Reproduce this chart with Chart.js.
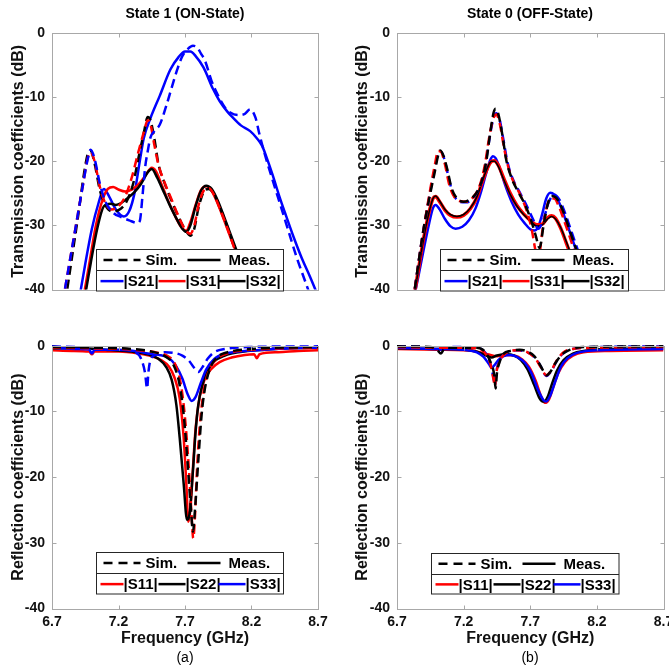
<!DOCTYPE html>
<html><head><meta charset="utf-8">
<script src="https://cdn.jsdelivr.net/npm/chart.js@4/dist/chart.umd.min.js"></script>
<style>
html,body{margin:0;padding:0;overflow:hidden;background:#fff;width:669px;height:667px}
#wrap{position:relative;width:669px;height:667px;overflow:hidden}
canvas{position:absolute}
.t{position:absolute;font-family:'Liberation Sans',Arial,sans-serif;color:#000;white-space:nowrap;transform:translate(-50%,-50%)}
</style></head><body>
<div id="wrap">
<canvas id="c1" width="335" height="305" style="left:0;top:0"></canvas>
<canvas id="c2" width="345" height="305" style="left:335px;top:0"></canvas>
<canvas id="c3" width="335" height="367" style="left:0;top:300px"></canvas>
<canvas id="c4" width="345" height="367" style="left:335px;top:300px"></canvas>
<div class="t" style="left:185px;top:13px;font-weight:bold;font-size:14px">State 1 (ON-State)</div>
<div class="t" style="left:530px;top:13px;font-weight:bold;font-size:14px">State 0 (OFF-State)</div>
<div class="t" style="left:185px;top:657px;font-size:14px">(a)</div>
<div class="t" style="left:530px;top:657px;font-size:14px">(b)</div>
</div>
<script>
// ---------- tick labels / categories ----------
const FREQ_TICKS = [6.7, 7.2, 7.7, 8.2, 8.7];
const DB_TICKS = [0, -10, -20, -30, -40];
const LEGEND_TRANS = ['|S21|', '|S31|', '|S32|'];
const LEGEND_REFL = ['|S11|', '|S22|', '|S33|'];

// ---------- State 1 (ON) transmission: [GHz, dB] ----------
const S21_on_sim = [[6.78,-42],[6.83,-36],[6.88,-30],[6.93,-24],[6.97,-19.5],[6.99,-18.2],[7.02,-19.6],[7.06,-23.5],[7.10,-26.2],[7.16,-28],[7.22,-28.7],[7.28,-29.2],[7.34,-29.6],[7.36,-29.3],[7.38,-25.5],[7.40,-21],[7.42,-18.4],[7.44,-16.3],[7.47,-15.3],[7.51,-14.3],[7.56,-11.3],[7.60,-8.5],[7.64,-5.8],[7.68,-3.6],[7.72,-2.5],[7.76,-2.0],[7.79,-2.2],[7.82,-3.2],[7.85,-4.3],[7.90,-7.5],[7.95,-9.8],[8.00,-11.6],[8.04,-12.4],[8.10,-12.8],[8.15,-12.6],[8.19,-11.9],[8.23,-13.2],[8.26,-15.8],[8.30,-18.9],[8.36,-23],[8.42,-27],[8.48,-31],[8.54,-35],[8.60,-38.5],[8.66,-42]];
const S31_on_sim = [[6.78,-42],[6.83,-36],[6.88,-30],[6.93,-24],[6.97,-19.4],[6.99,-18.6],[7.02,-20],[7.06,-24],[7.10,-26.5],[7.15,-27.5],[7.20,-27],[7.25,-25.5],[7.30,-22.5],[7.35,-18.5],[7.39,-15.5],[7.42,-13.6],[7.44,-14.2],[7.47,-17.5],[7.50,-20.5],[7.55,-23.5],[7.60,-26],[7.65,-28.5],[7.70,-30.6],[7.74,-31.3],[7.77,-30],[7.80,-27],[7.84,-24.6],[7.88,-24.2],[7.92,-25.3],[7.97,-27.8],[8.02,-30.5],[8.07,-33.5],[8.12,-36.5],[8.17,-39.5],[8.20,-41]];
const S32_on_sim = [[6.80,-42],[6.85,-35],[6.90,-28],[6.94,-22],[6.97,-18.8],[6.99,-18.4],[7.02,-20.3],[7.06,-24.5],[7.10,-26.8],[7.15,-27.8],[7.20,-27.6],[7.26,-26.3],[7.31,-23.5],[7.35,-19.5],[7.39,-15.6],[7.42,-13.1],[7.44,-13.6],[7.47,-16.5],[7.50,-20.4],[7.55,-23.6],[7.60,-26.2],[7.65,-28.6],[7.70,-30.6],[7.74,-31.6],[7.77,-30.5],[7.80,-27.4],[7.84,-24.8],[7.88,-24.3],[7.92,-25.2],[7.97,-27.6],[8.02,-30.3],[8.07,-33.3],[8.12,-36.3],[8.17,-39.3],[8.20,-41]];
const S21_on_meas = [[6.90,-42],[6.95,-36],[7.00,-30.5],[7.05,-26.5],[7.09,-24.3],[7.13,-25.5],[7.18,-27.5],[7.24,-28.6],[7.28,-27.8],[7.32,-25],[7.36,-20],[7.39,-16.4],[7.44,-13.3],[7.51,-9.8],[7.59,-5.7],[7.65,-3.8],[7.70,-2.9],[7.74,-2.9],[7.78,-3.6],[7.84,-5.4],[7.91,-8.7],[7.96,-10.6],[8.02,-12.3],[8.06,-13.2],[8.12,-14.4],[8.19,-15.3],[8.24,-16.4],[8.28,-17.6],[8.31,-19.2],[8.36,-22.2],[8.41,-25.5],[8.46,-28.5],[8.52,-32],[8.58,-35.2],[8.64,-38],[8.70,-41]];
const S31_on_meas = [[6.93,-42],[6.98,-36],[7.03,-30],[7.08,-26],[7.12,-24.3],[7.16,-24],[7.20,-24.4],[7.25,-24.7],[7.30,-24.4],[7.35,-23.6],[7.40,-22.3],[7.45,-21],[7.48,-21.5],[7.52,-23.4],[7.57,-26],[7.62,-28.3],[7.67,-30.2],[7.71,-30.8],[7.74,-29.5],[7.78,-26.8],[7.82,-24.5],[7.86,-23.9],[7.90,-24.6],[7.95,-26.8],[8.00,-29.5],[8.05,-32.3],[8.10,-35],[8.15,-38],[8.20,-40.6],[8.26,-39.5],[8.34,-39.2],[8.42,-40.6]];
const S32_on_meas = [[6.94,-42],[6.99,-36],[7.04,-30.5],[7.09,-27],[7.14,-26.6],[7.18,-26.8],[7.22,-26.5],[7.27,-25.7],[7.32,-24.8],[7.37,-23.5],[7.42,-21.7],[7.45,-21.2],[7.49,-22.5],[7.53,-24.3],[7.58,-26.6],[7.63,-28.7],[7.68,-30.5],[7.71,-31.0],[7.74,-30],[7.78,-27],[7.82,-24.6],[7.86,-23.8],[7.90,-24.3],[7.95,-26.3],[8.00,-29],[8.05,-31.8],[8.10,-34.6],[8.15,-37.6],[8.20,-40.6],[8.27,-39.6],[8.35,-39.4],[8.42,-40.6]];

// ---------- State 0 (OFF) transmission ----------
const S21_off_sim = [[6.82,-42],[6.86,-36],[6.90,-30.5],[6.94,-25.8],[6.98,-21.5],[7.01,-18.8],[7.03,-18.5],[7.06,-20],[7.09,-22.8],[7.12,-25],[7.17,-26.3],[7.22,-26.4],[7.27,-25.7],[7.32,-24],[7.36,-21],[7.39,-17],[7.42,-13.6],[7.445,-12.5],[7.47,-13.5],[7.50,-16.8],[7.53,-20.2],[7.57,-22.8],[7.62,-24.8],[7.67,-26.8],[7.72,-29],[7.76,-30.5],[7.80,-29],[7.84,-26.3],[7.88,-25.2],[7.92,-26],[7.96,-28],[8.01,-31],[8.06,-34],[8.12,-37.3],[8.18,-39.8],[8.26,-41.5]];
const S31_off_sim = [[6.82,-42],[6.86,-36],[6.90,-30.5],[6.94,-25.5],[6.98,-21],[7.01,-18.4],[7.03,-18.5],[7.06,-20.5],[7.09,-23.5],[7.12,-25.2],[7.17,-26.2],[7.22,-26.3],[7.27,-25.6],[7.32,-23.8],[7.36,-20.5],[7.39,-16.5],[7.42,-13.5],[7.445,-12.7],[7.47,-14],[7.50,-17.5],[7.53,-20.5],[7.57,-23],[7.62,-25],[7.67,-27.5],[7.71,-30.5],[7.74,-34],[7.76,-35.5],[7.79,-31],[7.82,-27.5],[7.85,-25.8],[7.88,-25.8],[7.91,-26.8],[7.95,-29],[8.00,-32],[8.05,-35.2],[8.12,-38.5],[8.18,-40.6]];
const S32_off_sim = [[6.82,-42],[6.86,-36],[6.90,-30.5],[6.94,-26],[6.98,-22],[7.01,-19],[7.025,-18.3],[7.05,-19.2],[7.08,-21.5],[7.11,-24.2],[7.15,-25.8],[7.20,-26.3],[7.25,-25.9],[7.30,-24.8],[7.34,-22.8],[7.37,-20],[7.40,-15.5],[7.425,-12.4],[7.44,-11.8],[7.46,-12.6],[7.49,-15.8],[7.52,-19.8],[7.56,-22.6],[7.60,-24.4],[7.65,-26.3],[7.70,-28.8],[7.74,-31.5],[7.77,-33.5],[7.80,-30],[7.83,-26.8],[7.86,-25.4],[7.89,-25.6],[7.92,-26.5],[7.96,-28.5],[8.00,-31],[8.05,-34],[8.10,-37],[8.15,-40],[8.18,-42]];
const S21_off_meas = [[6.82,-42],[6.86,-38],[6.90,-33.8],[6.94,-29.8],[6.97,-27.3],[6.99,-26.8],[7.02,-27.5],[7.06,-29],[7.10,-30.1],[7.14,-30.5],[7.19,-30.2],[7.24,-29.2],[7.29,-27.3],[7.33,-24.8],[7.37,-21.8],[7.40,-19.8],[7.42,-19.2],[7.44,-19.5],[7.47,-21],[7.51,-23.6],[7.56,-26.3],[7.61,-28.3],[7.66,-29.7],[7.70,-30.6],[7.73,-30.8],[7.76,-30.2],[7.79,-28.2],[7.82,-25.8],[7.85,-24.9],[7.88,-25.2],[7.92,-26.6],[7.96,-28.8],[8.01,-31.8],[8.06,-34.8],[8.11,-37.8],[8.16,-40.5]];
const S31_off_meas = [[6.82,-42],[6.86,-37],[6.90,-32],[6.94,-28],[6.97,-25.8],[6.99,-25.5],[7.02,-26.3],[7.06,-27.6],[7.10,-28.4],[7.15,-28.7],[7.20,-28.4],[7.25,-27.4],[7.30,-25.6],[7.34,-23.2],[7.38,-21],[7.41,-20],[7.43,-19.9],[7.46,-20.6],[7.50,-22.6],[7.55,-25],[7.60,-26.9],[7.65,-28.2],[7.70,-29.2],[7.75,-29.9],[7.79,-29.8],[7.83,-28.8],[7.86,-28.5],[7.89,-28.9],[7.93,-30.5],[7.97,-32.7],[8.02,-35.5],[8.07,-38.2],[8.12,-41]];
const S32_off_meas = [[6.82,-42],[6.86,-37],[6.90,-32],[6.94,-28],[6.97,-25.8],[6.99,-25.4],[7.02,-26.2],[7.06,-27.5],[7.10,-28.3],[7.15,-28.6],[7.20,-28.3],[7.25,-27.3],[7.30,-25.5],[7.34,-23.1],[7.38,-20.9],[7.41,-20],[7.43,-20],[7.46,-20.8],[7.50,-22.8],[7.55,-25.2],[7.60,-27],[7.65,-28.3],[7.70,-29.3],[7.75,-30.1],[7.79,-29.9],[7.83,-29],[7.86,-28.6],[7.89,-29],[7.93,-30.4],[7.97,-32.5],[8.02,-35.3],[8.07,-38],[8.12,-40.8]];

// ---------- State 1 (ON) reflection ----------
const S11_on_sim = [[6.7,-0.3],[7.0,-0.4],[7.3,-0.6],[7.5,-1.1],[7.58,-1.7],[7.63,-3],[7.67,-6],[7.70,-11],[7.73,-19],[7.75,-26],[7.762,-29.3],[7.775,-26],[7.79,-19],[7.81,-12.5],[7.84,-7],[7.88,-3.8],[7.93,-2.2],[8.0,-1.3],[8.1,-0.8],[8.3,-0.5],[8.7,-0.3]];
const S22_on_sim = [[6.7,-0.2],[7.0,-0.3],[7.3,-0.5],[7.45,-0.9],[7.55,-1.6],[7.61,-2.8],[7.655,-5.5],[7.69,-10.5],[7.72,-18],[7.745,-25],[7.76,-28.3],[7.775,-25],[7.80,-17.5],[7.825,-10.5],[7.85,-6.5],[7.89,-3.4],[7.94,-1.8],[8.02,-1.0],[8.2,-0.5],[8.7,-0.2]];
const S33_on_sim = [[6.7,-0.1],[7.0,-0.3],[7.2,-0.5],[7.32,-0.9],[7.37,-2],[7.40,-4.2],[7.415,-6.5],[7.425,-4],[7.44,-2.2],[7.48,-1.4],[7.55,-1.0],[7.62,-1.1],[7.68,-1.5],[7.73,-2.3],[7.77,-3.4],[7.80,-4],[7.83,-3.3],[7.87,-2],[7.92,-1.0],[8.0,-0.5],[8.2,-0.2],[8.7,-0.1]];
const S11_on_meas = [[6.7,-0.7],[6.85,-0.8],[6.98,-0.9],[7.0,-1.3],[7.02,-0.9],[7.2,-0.9],[7.35,-1.2],[7.45,-1.6],[7.52,-2.2],[7.58,-3.2],[7.62,-4.8],[7.66,-8],[7.69,-14],[7.71,-21],[7.725,-26.8],[7.74,-25],[7.76,-18.5],[7.78,-12.5],[7.81,-7.8],[7.85,-5],[7.90,-3.5],[7.96,-2.5],[8.05,-1.8],[8.15,-1.4],[8.22,-1.3],[8.24,-1.9],[8.26,-1.3],[8.4,-1],[8.55,-0.8],[8.7,-0.7]];
const S22_on_meas = [[6.7,-0.4],[6.9,-0.4],[7.1,-0.6],[7.3,-0.9],[7.42,-1.3],[7.50,-2.0],[7.56,-3.3],[7.60,-5.2],[7.635,-9],[7.66,-14],[7.69,-21],[7.715,-26.5],[7.735,-25.5],[7.76,-19],[7.78,-13],[7.80,-9],[7.83,-6],[7.87,-3.8],[7.92,-2.4],[8.0,-1.5],[8.1,-1.0],[8.3,-0.6],[8.5,-0.4],[8.7,-0.3]];
const S33_on_meas = [[6.7,-0.3],[6.9,-0.5],[6.98,-0.6],[7.0,-1.2],[7.02,-0.6],[7.2,-0.6],[7.35,-0.9],[7.42,-1.2],[7.5,-1.4],[7.58,-1.9],[7.63,-3],[7.68,-5],[7.72,-7.4],[7.75,-8.4],[7.78,-7.8],[7.82,-5.6],[7.86,-3.6],[7.92,-2],[8.0,-1.2],[8.1,-0.9],[8.3,-0.6],[8.5,-0.4],[8.7,-0.3]];

// ---------- State 0 (OFF) reflection ----------
const S11_off_sim = [[6.7,-0.2],[7.0,-0.3],[7.3,-0.4],[7.36,-1.1],[7.40,-2.7],[7.425,-5.2],[7.435,-6.2],[7.445,-4.2],[7.47,-2.4],[7.52,-1.1],[7.6,-0.7],[7.68,-1.0],[7.74,-2],[7.78,-3.3],[7.82,-4.5],[7.86,-3.7],[7.90,-2.2],[7.95,-1.0],[8.02,-0.5],[8.2,-0.3],[8.7,-0.2]];
const S22_off_sim = [[6.7,-0.1],[6.95,-0.2],[7.0,-0.6],[7.03,-1.2],[7.05,-0.6],[7.1,-0.3],[7.3,-0.3],[7.36,-0.9],[7.40,-2.4],[7.43,-4.5],[7.44,-6.5],[7.45,-4.2],[7.47,-2.5],[7.50,-1.2],[7.55,-0.8],[7.62,-0.6],[7.68,-0.9],[7.73,-1.6],[7.77,-2.8],[7.80,-3.9],[7.825,-4.5],[7.85,-4],[7.89,-2.6],[7.94,-1.3],[8.0,-0.6],[8.1,-0.2],[8.7,-0.1]];
const S33_off_sim = [[6.7,-0.1],[6.95,-0.3],[7.0,-0.6],[7.05,-0.5],[7.1,-0.2],[7.3,-0.3],[7.36,-1.0],[7.40,-2.6],[7.425,-5],[7.435,-6],[7.445,-4],[7.47,-2.3],[7.52,-1.1],[7.6,-0.7],[7.68,-1.0],[7.74,-1.9],[7.78,-3.2],[7.82,-4.6],[7.86,-3.8],[7.90,-2.3],[7.95,-1.1],[8.02,-0.5],[8.2,-0.2],[8.7,-0.1]];
const S11_off_meas = [[6.7,-0.5],[7.0,-0.6],[7.2,-0.7],[7.3,-0.9],[7.38,-1.3],[7.45,-1.6],[7.52,-1.4],[7.58,-1.5],[7.64,-2.1],[7.69,-3.2],[7.74,-5.3],[7.78,-7.6],[7.81,-8.7],[7.84,-8.2],[7.87,-6.5],[7.91,-4.2],[7.96,-2.5],[8.02,-1.5],[8.1,-1.0],[8.3,-0.8],[8.7,-0.7]];
const S22_off_meas = [[6.7,-0.4],[7.0,-0.5],[7.2,-0.6],[7.3,-0.9],[7.37,-1.5],[7.41,-1.8],[7.45,-1.5],[7.52,-1.3],[7.58,-1.5],[7.63,-2.2],[7.68,-3.6],[7.73,-6],[7.77,-8],[7.80,-8.5],[7.83,-7.8],[7.86,-6],[7.90,-3.8],[7.95,-2.2],[8.02,-1.2],[8.1,-0.8],[8.3,-0.5],[8.7,-0.4]];
const S33_off_meas = [[6.7,-0.3],[7.0,-0.5],[7.2,-0.6],[7.3,-1.0],[7.35,-1.7],[7.39,-2.8],[7.41,-3.4],[7.43,-3.0],[7.46,-2.2],[7.50,-1.6],[7.55,-1.4],[7.60,-1.7],[7.66,-2.6],[7.71,-4.2],[7.76,-6.8],[7.80,-8.3],[7.82,-8.5],[7.85,-7.6],[7.89,-5.3],[7.93,-3.2],[7.98,-1.9],[8.05,-1.1],[8.2,-0.7],[8.7,-0.5]];

// ---------- drawing ----------
const BLUE = '#0000ff', RED = '#ff0000', BLACK = '#000000';
const FONT = "'Liberation Sans', Arial, sans-serif";
const DASH = [9, 5];

function ds(pts, color, dashed, width, order) {
  return {
    data: pts.map(p => ({x: p[0], y: p[1]})),
    borderColor: color, backgroundColor: color,
    borderWidth: width, borderDash: dashed ? DASH : [],
    pointRadius: 0, fill: false, cubicInterpolationMode: 'monotone',
    clip: {left: 0, right: 0, top: 3, bottom: 0}, order: order
  };
}

const framePlugin = {
  id: 'frame',
  afterDatasetsDraw(chart) {
    const {ctx, chartArea: a, scales} = chart;
    ctx.save();
    ctx.strokeStyle = '#a8a8a8'; ctx.lineWidth = 1;
    const L = Math.round(a.left) + 0.5, R = Math.round(a.right) + 0.5;
    const T = Math.round(a.top) + 0.5, B = Math.round(a.bottom) + 0.5;
    ctx.strokeRect(L, T, R - L, B - T);
    ctx.beginPath();
    FREQ_TICKS.forEach(v => {
      const px = Math.round(scales.x.getPixelForValue(v)) + 0.5;
      ctx.moveTo(px, B); ctx.lineTo(px, B - 4);
      ctx.moveTo(px, T); ctx.lineTo(px, T + 4);
    });
    DB_TICKS.forEach(v => {
      const py = Math.round(scales.y.getPixelForValue(v)) + 0.5;
      ctx.moveTo(L, py); ctx.lineTo(L + 4, py);
      ctx.moveTo(R, py); ctx.lineTo(R - 4, py);
    });
    ctx.stroke();
    ctx.restore();
  }
};

const legendPlugin = {
  id: 'mlegend',
  afterDraw(chart, args, o) {
    if (!o || !o.box) return;
    const ctx = chart.ctx, a = chart.chartArea;
    const x0 = Math.round(a.left + o.box[0]) + 0.5, y0 = Math.round(a.top + o.box[1]) + 0.5;
    const w = o.box[2], h = o.box[3];
    ctx.save();
    ctx.fillStyle = '#fff'; ctx.fillRect(x0, y0, w, h);
    ctx.strokeStyle = '#262626'; ctx.lineWidth = 1;
    ctx.strokeRect(x0, y0, w, h);
    const ym = Math.round(y0 + h / 2) + 0.5;
    ctx.beginPath(); ctx.moveTo(x0, ym); ctx.lineTo(x0 + w, ym); ctx.stroke();
    const r1 = y0 + h * 0.25, r2 = y0 + h * 0.75 + 0.5;
    ctx.font = 'bold 15px ' + FONT; ctx.textBaseline = 'middle'; ctx.fillStyle = '#000';
    const seg = (xa, xb, y, col, dash) => {
      ctx.beginPath(); ctx.setLineDash(dash || []); ctx.lineWidth = 2.5; ctx.strokeStyle = col;
      ctx.moveTo(x0 + xa, y); ctx.lineTo(x0 + xb, y); ctx.stroke(); ctx.setLineDash([]);
    };
    seg(7, 44, r1, BLACK, [9, 6]); ctx.fillText('Sim.', x0 + 49, r1 + 1);
    seg(91, 124, r1, BLACK); ctx.fillText('Meas.', x0 + 132, r1 + 1);
    const xs = [[4, 27], [62, 89], [122, 149]];
    o.items.forEach((it, i) => {
      seg(xs[i][0], xs[i][1], r2, it.color);
      ctx.fillStyle = '#000';
      ctx.fillText(it.label, x0 + xs[i][1], r2 + 1);
    });
    ctx.restore();
  }
};

function makeChart(id, p) {
  const yWidth = p.area.l, xH = p.xLabels ? 43.6 : 0;
  const cv = document.getElementById(id);
  new Chart(cv, {
    type: 'line',
    data: {datasets: p.datasets},
    plugins: [framePlugin, legendPlugin],
    options: {
      responsive: false, animation: false, devicePixelRatio: 1,
      layout: {padding: {top: p.area.t, left: 0, right: cv.width - p.area.r, bottom: cv.height - p.area.b - xH}},
      plugins: {
        legend: {display: false}, tooltip: {enabled: false},
        mlegend: {box: p.legendBox, items: p.legendItems}
      },
      scales: {
        x: {
          type: 'linear', min: 6.7, max: 8.7, display: p.xLabels,
          afterBuildTicks: s => { s.ticks = FREQ_TICKS.map(v => ({value: v})); },
          afterFit: s => { s.height = xH; },
          grid: {display: false, drawTicks: false}, border: {display: false},
          ticks: {padding: 5, color: '#111', font: {family: FONT, size: 14, weight: 'bold'},
                  maxRotation: 0, autoSkip: false, callback: v => Number(v).toFixed(1)},
          title: {display: true, text: 'Frequency (GHz)', color: '#111', padding: {top: 0, bottom: 4},
                  font: {family: FONT, size: 16, weight: 'bold'}}
        },
        y: {
          type: 'linear', min: -40, max: 0,
          afterBuildTicks: s => { s.ticks = DB_TICKS.map(v => ({value: v})); },
          afterFit: s => { s.width = yWidth; },
          grid: {display: false, drawTicks: false}, border: {display: false},
          ticks: {padding: 7, color: '#111', font: {family: FONT, size: 14, weight: 'bold'}},
          title: {display: true, text: p.yTitle, color: '#111', padding: {top: p.yTitlePad, bottom: 0},
                  font: {family: FONT, size: 16, weight: 'bold'}}
        }
      }
    }
  });
}

makeChart('c1', {
  area: {l: 52, t: 33, r: 318, b: 295}, xLabels: false, yTitle: 'Transmission coefficients (dB)', yTitlePad: 9,
  legendBox: [43.5, 216, 187, 41.5],
  legendItems: [{label: LEGEND_TRANS[0], color: BLUE}, {label: LEGEND_TRANS[1], color: RED}, {label: LEGEND_TRANS[2], color: BLACK}],
  datasets: [
    ds(S21_on_meas, BLUE, false, 2.5, 6), ds(S31_on_meas, RED, false, 2.5, 5), ds(S32_on_meas, BLACK, false, 2.5, 4),
    ds(S32_on_sim, BLACK, true, 2.5, 3), ds(S31_on_sim, RED, true, 2.5, 2), ds(S21_on_sim, BLUE, true, 2.5, 1)
  ]
});
makeChart('c2', {
  area: {l: 62, t: 33, r: 328.5, b: 295}, xLabels: false, yTitle: 'Transmission coefficients (dB)', yTitlePad: 18,
  legendBox: [42.5, 216, 188, 41.5],
  legendItems: [{label: LEGEND_TRANS[0], color: BLUE}, {label: LEGEND_TRANS[1], color: RED}, {label: LEGEND_TRANS[2], color: BLACK}],
  datasets: [
    ds(S21_off_meas, BLUE, false, 2.5, 6), ds(S31_off_meas, RED, false, 3.5, 5), ds(S32_off_meas, BLACK, false, 1.6, 4),
    ds(S21_off_sim, BLUE, true, 2.5, 3), ds(S31_off_sim, RED, true, 2.5, 2), ds(S32_off_sim, BLACK, true, 2.5, 1)
  ]
});
makeChart('c3', {
  area: {l: 52, t: 45.7, r: 318, b: 308.5}, xLabels: true, yTitle: 'Reflection coefficients (dB)', yTitlePad: 9,
  legendBox: [43.5, 206, 187, 41.5],
  legendItems: [{label: LEGEND_REFL[0], color: RED}, {label: LEGEND_REFL[1], color: BLACK}, {label: LEGEND_REFL[2], color: BLUE}],
  datasets: [
    ds(S11_on_meas, RED, false, 2.5, 6), ds(S22_on_meas, BLACK, false, 2.5, 5), ds(S33_on_meas, BLUE, false, 2.5, 4),
    ds(S33_on_sim, BLUE, true, 2.5, 3), ds(S11_on_sim, RED, true, 2.5, 2), ds(S22_on_sim, BLACK, true, 2.5, 1)
  ]
});
makeChart('c4', {
  area: {l: 62, t: 45.7, r: 328.5, b: 308.5}, xLabels: true, yTitle: 'Reflection coefficients (dB)', yTitlePad: 18,
  legendBox: [34, 207, 187.5, 40.5],
  legendItems: [{label: LEGEND_REFL[0], color: RED}, {label: LEGEND_REFL[1], color: BLACK}, {label: LEGEND_REFL[2], color: BLUE}],
  datasets: [
    ds(S11_off_meas, RED, false, 2.5, 6), ds(S22_off_meas, BLACK, false, 2.5, 5), ds(S33_off_meas, BLUE, false, 2.5, 4),
    ds(S33_off_sim, BLUE, true, 2.5, 3), ds(S11_off_sim, RED, true, 2.5, 2), ds(S22_off_sim, BLACK, true, 2.5, 1)
  ]
});
</script>
</body></html>
